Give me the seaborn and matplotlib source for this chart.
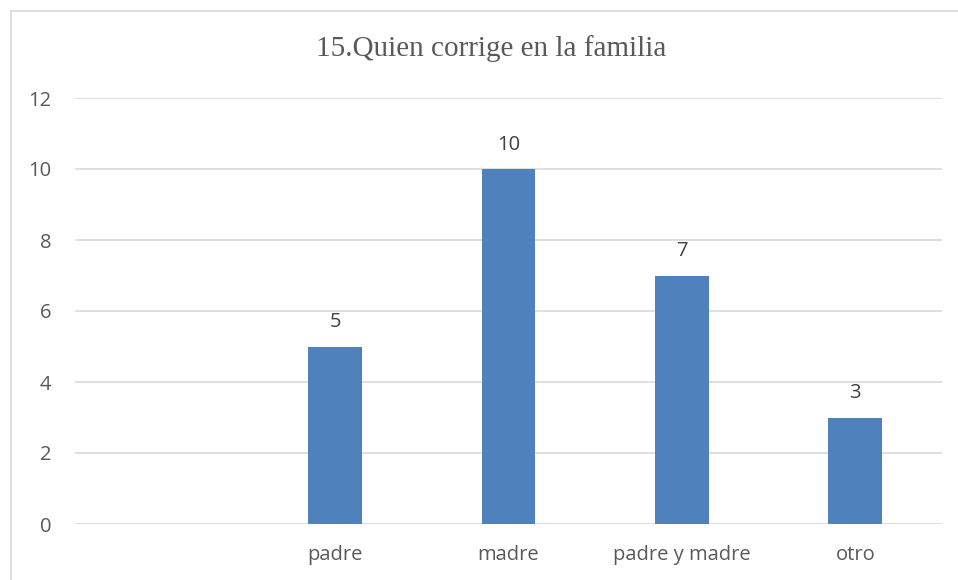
import numpy as np
import pandas as pd
import matplotlib
matplotlib.use('Agg')
import matplotlib.pyplot as plt
import seaborn as sns
from matplotlib.patches import Rectangle

categories = ['', 'padre', 'madre', 'padre y madre', 'otro']
counts = [np.nan, 5, 10, 7, 3]
y_ticks = [0, 2, 4, 6, 8, 10, 12]
title = '15.Quien corrige en la familia'

sns.set_style('white')
plt.rcParams['font.family'] = ['Open Sans', 'DejaVu Sans']

text_color = '#595959'
bar_color = '#4F81BD'
grid_color = '#D9D9D9'

data = pd.DataFrame({'category': categories, 'count': counts})

fig = plt.figure(figsize=(9.58, 5.8), dpi=100)
ax = fig.add_axes([75 / 958, 56 / 580, 867 / 958, 426 / 580])

# chart frame
fig.patches.append(Rectangle((11 / 958, -0.1), 1.1, (580 - 11) / 580 + 0.1,
                             transform=fig.transFigure, fill=False,
                             edgecolor='#D9D9D9', linewidth=1.2))

sns.barplot(data=data, x='category', y='count', order=categories,
            color=bar_color, width=0.31, saturation=1, linewidth=0, ax=ax)

for i, v in enumerate(counts):
    if not np.isnan(v):
        ax.text(i, v + 0.4, f'{int(v)}', ha='center', va='bottom',
                fontsize=14.5, color='#404040')

ax.set_ylim(0, 12)
ax.set_xlim(-0.5, len(categories) - 0.5)
ax.set_yticks(y_ticks)
ax.yaxis.grid(True, color=grid_color, linewidth=1.2)
ax.set_axisbelow(True)
for s in ax.spines.values():
    s.set_visible(False)
ax.tick_params(axis='both', length=0, labelsize=14.5, labelcolor=text_color)
ax.tick_params(axis='y', pad=17)
ax.tick_params(axis='x', pad=15)
ax.set_xlabel('')
ax.set_ylabel('')

fig.text(491 / 958, 1 - 49 / 580, title, ha='center', va='center',
         fontsize=21, color=text_color, family=['Liberation Serif'])

fig.savefig('out.png', dpi=100)
